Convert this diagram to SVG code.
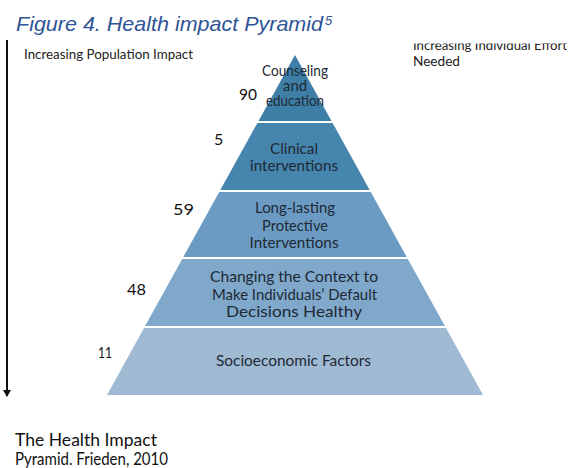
<svg xmlns="http://www.w3.org/2000/svg" width="576" height="468" viewBox="0 0 576 468">
<style>
.title{font-family:"Liberation Sans",Arial,sans-serif;font-style:italic;fill:#2f5496}
.side{font-family:Lato,"Liberation Sans",sans-serif;fill:#222}
.lbl{font-family:Lato,"Liberation Sans",sans-serif;font-size:15px;fill:#1e2935;text-anchor:middle}
.num{font-family:Lato,"Liberation Sans",sans-serif;font-size:16px;fill:#111}
.foot{font-family:Lato,"Liberation Sans",sans-serif;font-size:17px;fill:#111}
</style>
<defs>
<clipPath id="clipTop"><rect x="400" y="43.5" width="176" height="40"/></clipPath>
<marker id="ah" markerWidth="8" markerHeight="8" refX="6" refY="4" orient="auto" markerUnits="userSpaceOnUse">
<path d="M0,0 L7,4 L0,8 Z" fill="#111"/>
</marker>
</defs>
<rect width="576" height="468" fill="#fff"/>
<text class="title" x="16" y="31" font-size="21" textLength="307" lengthAdjust="spacingAndGlyphs">Figure 4. Health impact Pyramid</text>
<text class="title" x="325" y="25" font-size="13">5</text>
<g id="connectors">
<line x1="7" y1="40" x2="7" y2="396" stroke="#111" stroke-width="2" marker-end="url(#ah)"/>
</g>
<text class="side" x="24" y="58.5" font-size="13" textLength="169" lengthAdjust="spacingAndGlyphs">Increasing Population Impact</text>
<g clip-path="url(#clipTop)">
<text class="side" x="413" y="50" font-size="12.5" textLength="154" lengthAdjust="spacingAndGlyphs">Increasing Individual Effort</text>
</g>
<text class="side" x="413" y="66" font-size="12.5" textLength="47" lengthAdjust="spacingAndGlyphs">Needed</text>
<g id="layer1">
<polygon points="295,55 331.5,121 258.5,121" fill="#3f7fa7"/>
<text class="lbl" x="295" y="76" font-size="11.5" textLength="66" lengthAdjust="spacingAndGlyphs">Counseling</text>
<text class="lbl" x="295" y="91" font-size="11.5" textLength="24" lengthAdjust="spacingAndGlyphs">and</text>
<text class="lbl" x="295" y="106" font-size="11.5" textLength="58" lengthAdjust="spacingAndGlyphs">education</text>
<text class="num" x="239" y="100" textLength="18" lengthAdjust="spacingAndGlyphs">90</text>
</g>
<g id="layer2">
<polygon points="257.4,123 332.6,123 369.7,190 220.3,190" fill="#4685ae"/>
<text class="lbl" x="294" y="154" font-size="13.5" textLength="48" lengthAdjust="spacingAndGlyphs">Clinical</text>
<text class="lbl" x="294" y="171" font-size="13.5" textLength="88" lengthAdjust="spacingAndGlyphs">interventions</text>
<text class="num" x="214" y="145">5</text>
</g>
<g id="layer3">
<polygon points="219.2,192 370.8,192 406.7,257 183.3,257" fill="#6b9bc3"/>
<text class="lbl" x="295" y="213" textLength="80" lengthAdjust="spacingAndGlyphs">Long-lasting</text>
<text class="lbl" x="295" y="231" textLength="66" lengthAdjust="spacingAndGlyphs">Protective</text>
<text class="lbl" x="294" y="248" textLength="89" lengthAdjust="spacingAndGlyphs">Interventions</text>
<text class="num" x="173" y="215" textLength="21" lengthAdjust="spacingAndGlyphs">59</text>
</g>
<g id="layer4">
<polygon points="182.2,259 407.8,259 444.9,326 145.1,326" fill="#7fa8cb"/>
<text class="lbl" x="294" y="282" textLength="168" lengthAdjust="spacingAndGlyphs">Changing the Context to</text>
<text class="lbl" x="294.5" y="300" textLength="165" lengthAdjust="spacingAndGlyphs">Make Individuals’ Default</text>
<text class="lbl" x="294" y="317" textLength="136" lengthAdjust="spacingAndGlyphs">Decisions Healthy</text>
<text class="num" x="127" y="295" textLength="19" lengthAdjust="spacingAndGlyphs">48</text>
</g>
<g id="layer5">
<polygon points="144,328 446,328 483,395 107,395" fill="#a0bad4"/>
<text class="lbl" x="293.5" y="366" textLength="155" lengthAdjust="spacingAndGlyphs">Socioeconomic Factors</text>
<text class="num" x="98" y="358" textLength="14" lengthAdjust="spacingAndGlyphs">11</text>
</g>
<text class="foot" x="15" y="446" textLength="142" lengthAdjust="spacingAndGlyphs">The Health Impact</text>
<text class="foot" x="15" y="465" textLength="153" lengthAdjust="spacingAndGlyphs">Pyramid. Frieden, 2010</text>
</svg>
